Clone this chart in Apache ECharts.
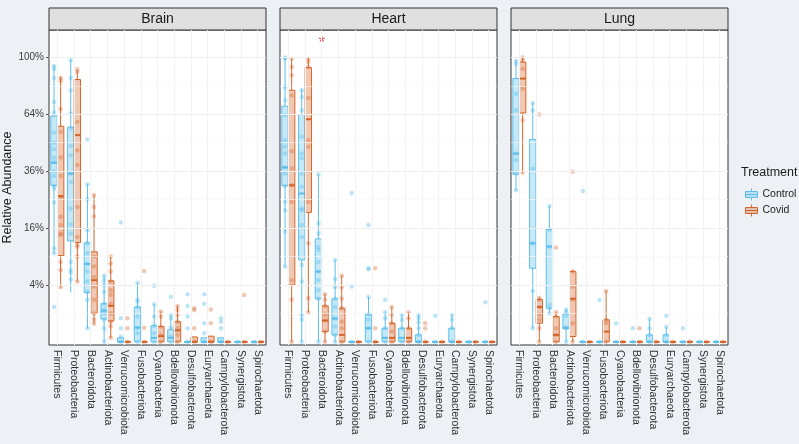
<!DOCTYPE html>
<html>
<head>
<meta charset="utf-8">
<script src="https://cdn.jsdelivr.net/npm/echarts@6/dist/echarts.min.js"></script>
<style>
  html, body { margin: 0; padding: 0; background: #edf0f5; }
  #chart { width: 799px; height: 444px; }
</style>
</head>
<body>
<div id="chart"></div>
<script>
// relative abundance by phylum, boxplots on a sqrt scale, faceted by tissue

var taxa = ['Firmicutes', 'Proteobacteria', 'Bacteroidota', 'Actinobacteriota', 'Verrucomicrobiota',
  'Fusobacteriota', 'Cyanobacteria', 'Bdellovibrionota', 'Desulfobacterota', 'Euryarchaeota',
  'Campylobacterota', 'Synergistota', 'Spirochaetota'];
var tissues = ['Brain', 'Heart', 'Lung'];
var yTicks = [4, 16, 36, 64, 100]; // percent

// box stats in percent: [min, Q1, median, Q3, max]
var brainControlBox = [[9.7, 30.2, 39.6, 63, 94.5], [3, 12.6, 35, 56.9, 98.4], [0.23, 3, 7.5, 12.1, 30.7],
  [0, 0.65, 1.2, 1.8, 5.4], [0, 0, 0, 0.02, 0.02], [0, 0, 0.25, 1.5, 4.3], [0, 0, 0.02, 0.32, 1.75],
  [0, 0, 0.02, 0.18, 0.9], [0, 0, 0, 0, 0], [0, 0, 0, 0.02, 0.02], [0, 0, 0, 0.02, 0.02], [0, 0, 0, 0, 0], [0, 0, 0, 0, 0]];
var brainCovidBox = [[3.7, 9.2, 26.2, 57.4, 86.7], [4.5, 12.2, 52.8, 85, 91], [0.4, 1, 4.7, 10, 26.6],
  [0.02, 0.54, 1.6, 4.6, 9], [0, 0, 0, 0, 0], [0, 0, 0, 0, 0], [0, 0, 0.04, 0.29, 1.13],
  [0, 0, 0.16, 0.5, 1.6], [0, 0, 0, 0.03, 0.03], [0, 0, 0, 0.04, 0.04], [0, 0, 0, 0, 0], [0, 0, 0, 0, 0], [0, 0, 0, 0, 0]];
var heartControlBox = [[7, 30.1, 37.6, 68.6, 99.8], [0, 8.3, 27.2, 63.8, 78.6], [0, 2.3, 6.1, 13.1, 34.6],
  [0, 0.06, 0.67, 2.3, 8.3], [0, 0, 0, 0, 0], [0, 0, 0.23, 0.94, 2.5], [0, 0, 0.02, 0.23, 1.08],
  [0, 0, 0.02, 0.23, 0.9], [0, 0, 0, 0.06, 0.9], [0, 0, 0, 0, 0], [0, 0, 0, 0.23, 0.9], [0, 0, 0, 0, 0], [0, 0, 0, 0, 0]];
var heartCovidBox = [[0, 4, 30.3, 78.2, 99], [1.06, 20.7, 61.2, 92.9, 99.8], [0, 0.13, 0.56, 1.6, 2.8],
  [0, 0, 0.06, 1.4, 5.4], [0, 0, 0, 0, 0], [0, 0, 0, 0, 0], [0, 0, 0.02, 0.43, 1.5],
  [0, 0, 0.02, 0.23, 1.08], [0, 0, 0, 0, 0], [0, 0, 0, 0, 0], [0, 0, 0, 0, 0], [0, 0, 0, 0, 0], [0, 0, 0, 0, 0]];
var lungControlBox = [[28.4, 34.7, 43.8, 85.6, 98], [0.23, 6.7, 12, 50.6, 70.5], [1, 1.4, 11.2, 15.6, 22.8],
  [0, 0.21, 0.25, 0.97, 1.3], [0, 0, 0, 0, 0], [0, 0, 0, 0, 0], [0, 0, 0, 0, 0],
  [0, 0, 0, 0, 0], [0, 0, 0, 0.06, 0.65], [0, 0, 0, 0.06, 0.27], [0, 0, 0, 0, 0], [0, 0, 0, 0, 0], [0, 0, 0, 0, 0]];
var lungCovidBox = [[35.3, 64.7, 85.6, 96.7, 99.8], [0, 0.43, 1.5, 2.2, 2.4], [0, 0, 0.06, 0.79, 1.08],
  [0, 0.035, 2.3, 6.1, 6.4], [0, 0, 0, 0, 0], [0, 0, 0.13, 0.6, 3.2], [0, 0, 0, 0, 0],
  [0, 0, 0, 0, 0], [0, 0, 0, 0, 0], [0, 0, 0, 0, 0], [0, 0, 0, 0, 0], [0, 0, 0, 0, 0], [0, 0, 0, 0, 0]];

// individual samples in percent, one list per phylum
var brainControlPts = [[94, 92, 86, 71, 65, 54, 49, 46, 42, 40, 36, 34, 30, 29, 24, 10.8, 9.7, 1.5],
  [97.9, 86, 78, 64.4, 56.2, 47.5, 43, 35, 31.6, 22, 17.1, 14.5, 7.9, 6.4, 5.9, 4.8],
  [50.6, 30.7, 25.2, 15.4, 12, 9.7, 7.5, 6.1, 4.5, 3.1, 2.2, 0.23],
  [5.4, 4.7, 4, 3.1, 1.8, 1.3, 1, 0.6, 0.23, 0], [17.6, 0.69, 0.23, 0.035, 0],
  [4.3, 2.2, 2, 1.5, 0.79, 0.25, 0.09, 0], [3.9, 1.75, 0.79, 0.32, 0.09, 0],
  [2.5, 0.9, 0.69, 0.25, 0.035, 0], [2.8, 1.6, 0.79, 0.23, 0], [2.8, 1.8, 0.43, 0.09, 0],
  [0.69, 0.5, 0.23, 0], [0], [0]];
var brainCovidPts = [[86, 84, 67, 54.5, 42, 34, 26, 19.3, 16.9, 14.5, 14.1, 7.9, 6.4, 3.7],
  [91.8, 90, 59.7, 45.4, 38.6, 22.5, 13.6, 11.6, 11.2, 9, 4.5],
  [26.6, 22.5, 19.5, 9, 7, 5.2, 3.8, 2.2, 1, 0.6, 0.4],
  [9, 7.6, 6.1, 4.5, 3.3, 2.7, 1.8, 1, 0.5, 0.3, 0.02], [0.69, 0.23, 0], [6.2, 0.25, 0],
  [1.13, 0.79, 0.29, 0.06, 0], [1.6, 1.26, 0.9, 0.5, 0.23, 0.06, 0], [1.4, 1.26, 0.23, 0],
  [1.3, 0.43, 0], [0], [2.7, 0], [0]];
var heartControlPts = [[99.8, 99, 79.9, 72, 63.4, 50.2, 47, 43.8, 37.6, 35, 30, 24.2, 21.4, 15, 7],
  [78.2, 74, 66.3, 51.9, 43.8, 41.6, 35, 29.7, 22, 21.4, 16.8, 13.6, 7.3, 4.5, 0.9, 0.6, 0],
  [34.6, 17.3, 14.5, 11.2, 10.4, 7.9, 6.1, 4.7, 3.3, 2.3, 0],
  [8.3, 4.9, 3.7, 2.3, 1.5, 0.67, 0.29, 0.06, 0], [27.4, 3.8, 0],
  [16.9, 6.7, 6.5, 2.5, 0.94, 0.6, 0.23, 0], [2.2, 1.08, 0.69, 0.23, 0], [0.9, 0.6, 0.23, 0],
  [0.9, 0.69, 0.46, 0.23, 0.06, 0], [0.85, 0], [0.9, 0.6, 0.23, 0], [0], [1.94, 0]];
var heartCovidPts = [[99, 93.3, 87.8, 75.1, 44.9, 37.1, 30.3, 24.2, 4.7, 2.2, 0],
  [99, 96.7, 93.3, 73.5, 50.2, 47, 24.2, 12, 2.35, 1.06],
  [2.8, 2.2, 1.6, 0.9, 0.56, 0.13, 0], [5.4, 3.7, 2.3, 1.4, 0.5, 0.23, 0], [0],
  [6.7, 0.23, 0], [1.5, 0.9, 0.43, 0.13, 0], [1.08, 0.69, 0.23, 0], [0.43, 0.23, 0],
  [0], [0], [0], [0]];
var lungControlPts = [[97.5, 95.6, 76.1, 66.3, 43.8, 40.8, 35, 28.4], [70.5, 66.3, 37.1, 12, 3.2, 0.23],
  [22.8, 15.6, 11.2, 1.7, 1.4, 1], [1.3, 1.1, 0.85, 0.25, 0], [28.1, 0], [2.2, 0], [0.43, 0],
  [0.23, 0], [0.65, 0.23, 0.06, 0], [0.85, 0.27, 0.06, 0], [0.23, 0], [0], [0]];
var lungCovidPts = [[99.8, 98, 92.2, 79.2, 60.7, 35.3], [63.8, 2.4, 2.2, 1.5, 0.9, 0.6, 0.23, 0],
  [11, 1.08, 0.79, 0.23, 0.06, 0], [35.7, 6.1, 3.8, 2.2, 0.43, 0], [0], [3.2, 0.6, 0.43, 0],
  [0], [0.23, 0], [0], [0], [0], [0], [0]];

// significance mark (tissue, phylum, height in percent)
var marks = [['Heart', 'Bacteroidota', 114]];

var boxes = {
  Brain: [brainControlBox, brainCovidBox],
  Heart: [heartControlBox, heartCovidBox],
  Lung: [lungControlBox, lungCovidBox]
};
var points = {
  Brain: [brainControlPts, brainCovidPts],
  Heart: [heartControlPts, heartCovidPts],
  Lung: [lungControlPts, lungCovidPts]
};

var groups = [
  { name: 'Control', line: '#5bbfea', fill: 'rgba(91,191,234,0.35)', dot: 'rgba(91,191,234,0.5)', off: -3.3 },
  { name: 'Covid', line: '#d4652a', fill: 'rgba(212,101,42,0.35)', dot: 'rgba(212,101,42,0.45)', off: 3.3 }
];

var sq = function (p) { return Math.sqrt(p); };
var font = 'Liberation Sans, Arial, sans-serif';
var lefts = [49, 280, 511];
var W = 217, TOP = 30, H = 315;

var myChart = echarts.init(document.getElementById('chart'));

var grids = [], xAxes = [], yAxes = [], series = [], graphics = [];

tissues.forEach(function (t, gi) {
  grids.push({ left: lefts[gi], top: TOP, width: W, height: H, show: true,
    backgroundColor: '#fff', borderColor: '#333', borderWidth: 1 });
  xAxes.push({
    type: 'category', gridIndex: gi, data: taxa,
    axisLine: { show: false },
    axisTick: { show: true, alignWithLabel: true, length: 3, lineStyle: { color: '#555' } },
    axisLabel: { rotate: -90, interval: 0, fontSize: 10.5, color: '#333', margin: 5, fontFamily: font },
    splitLine: { show: false }
  });
  yAxes.push({
    type: 'value', gridIndex: gi, min: -0.11, max: 10.96,
    axisLine: { show: false },
    axisTick: { show: gi === 0, length: 3, customValues: yTicks.map(sq), lineStyle: { color: '#555' } },
    axisLabel: { show: gi === 0, customValues: yTicks.map(sq), fontSize: 10, color: '#3a3a3a', margin: 5,
      fontFamily: font, formatter: function (v) { return Math.round(v * v) + '%'; } },
    splitLine: { show: false },
    name: gi === 0 ? 'Relative Abundance' : '', nameLocation: 'middle', nameGap: 27,
    nameTextStyle: { fontSize: 12.5, color: '#1a1a1a', fontFamily: font }
  });

  // panel grid lines
  var gl = [];
  for (var k = 1; k <= 10; k++) {
    gl.push({ yAxis: k, lineStyle: { color: k % 2 ? '#f6f6f6' : '#eeeeee', width: k % 2 ? 0.6 : 1, type: 'solid' } });
  }
  taxa.forEach(function (c) { gl.push({ xAxis: c, lineStyle: { color: '#f2f2f2', width: 1, type: 'solid' } }); });
  series.push({
    type: 'line', xAxisIndex: gi, yAxisIndex: gi, data: [], silent: true, z: 0,
    markLine: { silent: true, symbol: 'none', label: { show: false }, animation: false,
      lineStyle: { type: 'solid', color: '#f0f0f0', width: 1, opacity: 1 },
      emphasis: { disabled: true }, data: gl }
  });

  groups.forEach(function (g, k) {
    series.push({
      name: g.name, type: 'custom', xAxisIndex: gi, yAxisIndex: gi, z: 2,
      itemStyle: { color: g.fill, borderColor: g.line },
      encode: { x: 0, y: [1, 2, 3, 4, 5] },
      data: boxes[t][k].map(function (b, i) { return [i].concat(b.map(sq)); }),
      renderItem: function (params, api) {
        var c = api.value(0);
        var x = api.coord([c, 0])[0] + g.off;
        var y = function (d) { return api.coord([c, api.value(d)])[1]; };
        var w = 6.4;
        var st = { stroke: g.line, lineWidth: 1 };
        return { type: 'group', children: [
          { type: 'line', shape: { x1: x, y1: y(1), x2: x, y2: y(2) }, style: st },
          { type: 'line', shape: { x1: x, y1: y(4), x2: x, y2: y(5) }, style: st },
          { type: 'rect', shape: { x: x - w / 2, y: y(4), width: w, height: y(2) - y(4) },
            style: { fill: g.fill, stroke: g.line, lineWidth: 1 } },
          { type: 'line', shape: { x1: x - w / 2, y1: y(3), x2: x + w / 2, y2: y(3) },
            style: { stroke: g.line, lineWidth: 2 } }
        ] };
      }
    });
    var pd = [];
    points[t][k].forEach(function (ps, i) { ps.forEach(function (p) { pd.push([i, sq(p)]); }); });
    series.push({
      name: g.name, type: 'scatter', xAxisIndex: gi, yAxisIndex: gi, z: 3,
      symbolSize: 4.5, symbolOffset: [g.off, 0],
      itemStyle: { color: g.dot }, data: pd
    });
  });

  var md = marks.filter(function (m) { return m[0] === t; })
    .map(function (m) { return [taxa.indexOf(m[1]), sq(m[2])]; });
  if (md.length) {
    series.push({
      type: 'scatter', xAxisIndex: gi, yAxisIndex: gi, z: 4, symbolSize: 1, data: md,
      itemStyle: { color: 'rgba(0,0,0,0)' },
      label: { show: true, position: 'inside', formatter: '*', color: '#e8141c', fontSize: 17,
        fontFamily: font, offset: [0, 5] }
    });
  }

  // facet strip
  graphics.push({ type: 'rect', shape: { x: lefts[gi], y: 8, width: W, height: 22 },
    style: { fill: '#e0e0e0', stroke: '#333', lineWidth: 1 } });
  graphics.push({ type: 'text', x: lefts[gi] + W / 2, y: 19,
    style: { text: t, fontSize: 14, fill: '#1a1a1a', font: '14px ' + font, textAlign: 'center', textVerticalAlign: 'middle' } });
});

graphics.push({ type: 'text', left: 741, top: 166,
  style: { text: 'Treatment', font: '12.5px ' + font, fill: '#1a1a1a' } });

var option = {
  backgroundColor: '#edf0f5',
  animation: false,
  grid: grids,
  xAxis: xAxes,
  yAxis: yAxes,
  legend: {
    orient: 'vertical', left: 740, top: 183, itemGap: 3, itemWidth: 12, itemHeight: 12,
    icon: 'path://M0,3 L12,3 L12,9 L0,9 Z M0,6 L12,6 M6,0 L6,3 M6,9 L6,12',
    textStyle: { fontSize: 10.5, color: '#1a1a1a', fontFamily: font },
    data: groups.map(function (g) {
      return { name: g.name, itemStyle: { color: g.fill, borderColor: g.line, borderWidth: 1 } };
    })
  },
  graphic: graphics,
  series: series
};
myChart.setOption(option);
</script>
</body>
</html>
